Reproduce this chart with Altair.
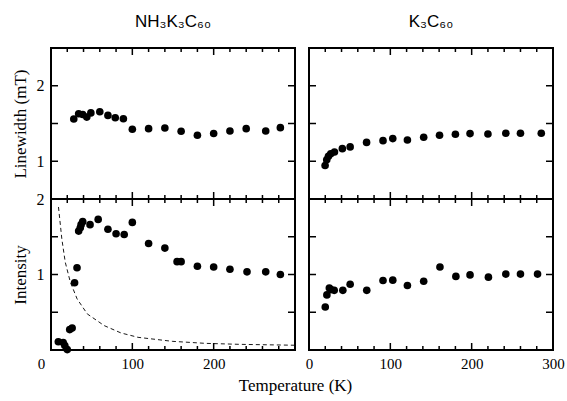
import altair as alt
import pandas as pd

# ---------------- data ----------------
nh3_lw_T = [28, 34, 39, 44, 49, 60, 70, 79, 89, 100, 120, 140, 160, 180, 200, 220, 240, 264, 282]
nh3_lw = [1.56, 1.63, 1.62, 1.585, 1.64, 1.655, 1.607, 1.576, 1.563, 1.424, 1.432, 1.44,
          1.397, 1.345, 1.367, 1.40, 1.432, 1.40, 1.445]

nh3_int_T = [9, 15, 17, 20, 23, 26, 29, 32, 34, 36, 37, 39, 48, 58, 70, 80, 90, 100,
             120, 140, 155, 160, 180, 200, 220, 241, 264, 282]
nh3_int = [0.11, 0.10, 0.06, 0.005, 0.27, 0.29, 0.89, 1.09, 1.575, 1.62, 1.66, 1.70, 1.66,
           1.73, 1.60, 1.54, 1.53, 1.69, 1.41, 1.35, 1.17, 1.17, 1.11, 1.10, 1.07, 1.035,
           1.035, 1.00]

curie_T = [9.2, 13.3, 17.5, 23.8, 32.1, 44.6, 65.4, 86, 107, 149, 190, 232, 300]
curie = [1.894, 1.473, 1.164, 0.898, 0.677, 0.478, 0.323, 0.226, 0.168, 0.115, 0.088,
         0.075, 0.063]

k3_lw_T = [19.8, 21.8, 23.9, 26.7, 31.3, 41, 50.6, 70.8, 91, 103, 121, 141, 160.5, 180,
           198, 220, 242, 260, 285.6]
k3_lw = [0.943, 1.02, 1.066, 1.10, 1.123, 1.167, 1.19, 1.25, 1.273, 1.30, 1.282, 1.317,
         1.344, 1.357, 1.366, 1.361, 1.37, 1.37, 1.37]

k3_int_T = [20, 22, 25, 27, 31, 41.6, 50.6, 71, 91, 103, 121, 141, 161, 180.6, 198, 220.6,
            242, 260, 281]
k3_int = [0.57, 0.73, 0.82, 0.80, 0.79, 0.79, 0.87, 0.79, 0.92, 0.925, 0.855, 0.91, 1.10,
          0.975, 0.995, 0.965, 1.005, 1.005, 1.005]

x_major = [0, 100, 200, 300]
x_minor = [20, 40, 60, 80, 120, 140, 160, 180, 220, 240, 260, 280]
y_ticks_lw = [1.0, 1.5, 2.0]
y_ticks_int = [0.5, 1.0, 1.5]

titles = ["NH\u2083K\u2083C\u2086\u2080", "K\u2083C\u2086\u2080"]

# ---------------- layout ----------------
W, H = 244, 151
SERIF = "Liberation Serif"
SANS = "Liberation Sans"


def panel(T, V, ydom, yticks, ylabels, left, bottom, xlabels=None, title=None,
          ytitle=None, xtitle=None, dashed=None):
    if bottom:
        xaxis_kw = dict(values=xlabels, ticks=False, domain=False, grid=False,
                        labelFont=SERIF, labelFontSize=15, labelColor="black",
                        labelPadding=6, labelFlush=False, labelOverlap=False)
        if left:
            xaxis_kw["labelOffset"] = {"condition": {"test": "datum.value === 0", "value": -10},
                                       "value": 0}
        if xtitle:
            xaxis_kw.update(title=xtitle, titleFont=SERIF, titleFontSize=17,
                            titleFontWeight="normal", titleColor="black", titleX=244,
                            titlePadding=6)
        else:
            xaxis_kw["title"] = None
        X = alt.X("T:Q", scale=alt.Scale(domain=[0, 300], nice=False, zero=False),
                  axis=alt.Axis(**xaxis_kw))
    else:
        X = alt.X("T:Q", scale=alt.Scale(domain=[0, 300], nice=False, zero=False), axis=None)

    if left:
        yaxis_kw = dict(values=ylabels, ticks=False, domain=False, grid=False,
                        labelFont=SERIF, labelFontSize=16, labelColor="black",
                        labelPadding=7, labelOverlap=False, title=ytitle,
                        titleFont=SERIF, titleFontSize=17, titleFontWeight="normal",
                        titleColor="black", titlePadding=7)
        Y = alt.Y("v:Q", scale=alt.Scale(domain=ydom, nice=False, zero=False),
                  axis=alt.Axis(**yaxis_kw))
    else:
        Y = alt.Y("v:Q", scale=alt.Scale(domain=ydom, nice=False, zero=False), axis=None)

    df = pd.DataFrame({"T": T, "v": V})
    pts = alt.Chart(df).mark_circle(size=58, color="black", opacity=1).encode(x=X, y=Y)

    layers = [pts]
    if dashed is not None:
        dd = pd.DataFrame({"T": dashed[0], "v": dashed[1]})
        layers.append(alt.Chart(dd).mark_line(color="black", strokeWidth=0.9,
                                              strokeDash=[4, 3]).encode(x=X, y=Y))

    maj = pd.DataFrame({"T": x_major})
    mnr = pd.DataFrame({"T": x_minor})
    yt = pd.DataFrame({"v": yticks})
    rule = dict(color="black", strokeWidth=1.5)
    layers += [
        alt.Chart(maj).mark_rule(**rule).encode(x=X, y=alt.value(H), y2=alt.value(H - 7)),
        alt.Chart(mnr).mark_rule(**rule).encode(x=X, y=alt.value(H), y2=alt.value(H - 4)),
        alt.Chart(maj).mark_rule(**rule).encode(x=X, y=alt.value(0), y2=alt.value(7)),
        alt.Chart(mnr).mark_rule(**rule).encode(x=X, y=alt.value(0), y2=alt.value(4)),
        alt.Chart(yt).mark_rule(**rule).encode(y=Y, x=alt.value(0), x2=alt.value(7)),
        alt.Chart(yt).mark_rule(**rule).encode(y=Y, x=alt.value(W - 7), x2=alt.value(W)),
    ]
    ch = alt.layer(*layers).properties(width=W, height=H)
    if title:
        ch = ch.properties(title=alt.TitleParams(title, font=SANS, fontSize=17,
                                                 fontWeight="normal", color="black",
                                                 offset=16))
    return ch


TL = panel(nh3_lw_T, nh3_lw, [0.5, 2.5], y_ticks_lw, [1, 2], left=True, bottom=False,
           title=titles[0], ytitle="Linewidth (mT)")
TR = panel(k3_lw_T, k3_lw, [0.5, 2.5], y_ticks_lw, [1, 2], left=False, bottom=False,
           title=titles[1])
BL = panel(nh3_int_T, nh3_int, [0, 2], y_ticks_int, [1, 2], left=True, bottom=True,
           xlabels=[0, 100, 200], ytitle="Intensity", xtitle="Temperature (K)",
           dashed=(curie_T, curie))
BR = panel(k3_int_T, k3_int, [0, 2], y_ticks_int, [1, 2], left=False, bottom=True,
           xlabels=[0, 100, 200, 300])

chart = alt.concat(TL, TR, BL, BR, columns=2, spacing={"row": 0, "column": 14},
                   bounds="flush").properties(
    padding={"left": 10, "top": 12, "right": 0, "bottom": 4},
    background="white",
).configure_view(stroke="black", strokeWidth=2)

chart.save("out.html", embed_options={"renderer": "svg", "actions": False})
